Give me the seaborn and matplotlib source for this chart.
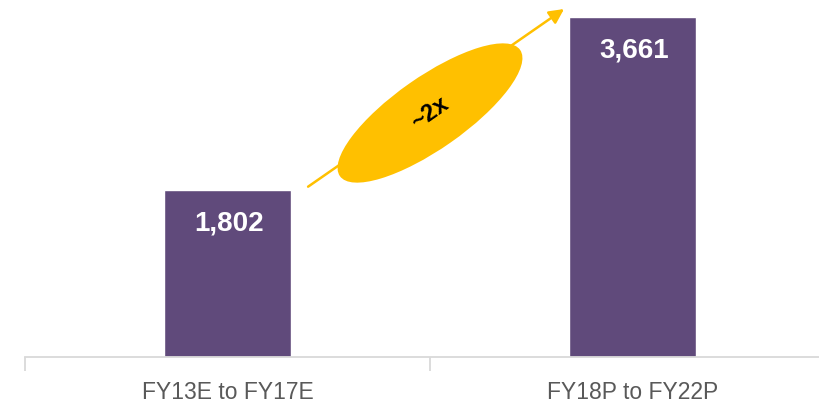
import matplotlib
matplotlib.use('Agg')
import matplotlib.pyplot as plt
from matplotlib.patches import Ellipse
import seaborn as sns

# chart data
periods = ['FY13E to FY17E', 'FY18P to FY22P']
values = [1802, 3661]
growth_label = '~2x'

bar_color = '#604A7B'
accent = '#FFC000'

sns.set_style('white')
plt.rcParams['font.family'] = ['Liberation Sans', 'DejaVu Sans']

fig = plt.figure(figsize=(8.2, 4.03), dpi=100)
# the category axis runs a little past the right edge of the picture
ax = fig.add_axes([25 / 820, 46 / 403, 810 / 820, 357 / 403])

sns.barplot(x=periods, y=values, color=bar_color, saturation=1, width=0.314, ax=ax)

ax.set_xlim(-0.5, 1.5)
ax.set_ylim(0, values[1] * 357 / 340)
ax.set_yticks([])
ax.set_xlabel('')
ax.set_ylabel('')
for side in ['left', 'right', 'top']:
    ax.spines[side].set_visible(False)
ax.spines['bottom'].set_color('#D9D9D9')
ax.spines['bottom'].set_linewidth(1.3)

ax.tick_params(axis='x', which='major', length=0, pad=17, labelsize=16.5, labelcolor='#595959')
ax.set_xticks([-0.5, 0.5, 1.5], minor=True)
ax.tick_params(axis='x', which='minor', bottom=True, length=10, width=1.3, color='#D9D9D9')

# value labels inside bars
for i, v in enumerate(values):
    ax.annotate(f'{v:,}', xy=(i, v), xytext=(1, -29.5), textcoords='offset points',
                ha='center', va='baseline', color='white', fontsize=20, fontweight='bold')

# growth arrow from first bar top to second bar top
ax.annotate('', xy=(0.831, values[1] + 86), xytext=(0.199, values[0] + 32),
            arrowprops=dict(arrowstyle='-|>', color=accent, lw=1.8,
                            mutation_scale=22, shrinkA=0, shrinkB=0))

# ellipse badge with multiplier
badge = Ellipse((4.30, 2.90), width=2.2, height=0.72, angle=35,
                transform=fig.dpi_scale_trans, facecolor=accent, edgecolor='none', zorder=5)
fig.add_artist(badge)
fig.text(4.30 / 8.2, 2.90 / 4.03, growth_label, rotation=35, ha='center', va='center',
         fontsize=17, fontweight='bold', color='black', zorder=6)

fig.savefig('out.png', dpi=100)
